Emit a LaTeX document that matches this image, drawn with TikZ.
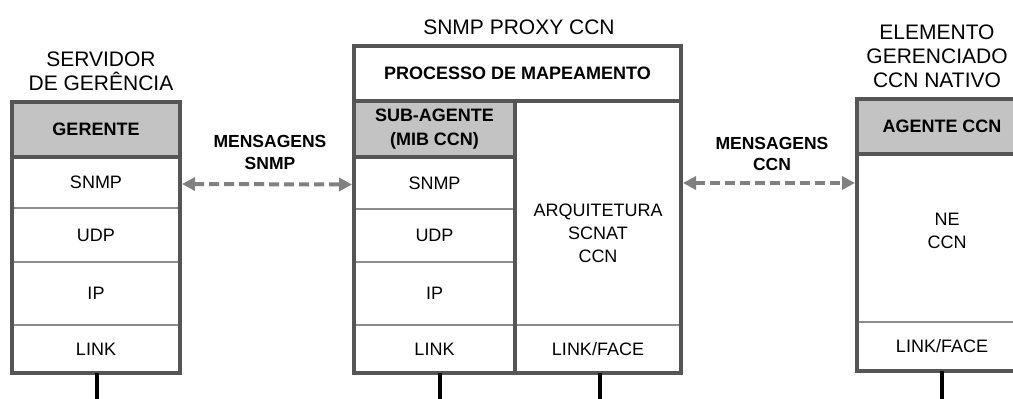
\documentclass[tikz,border=0pt]{standalone}
\usepackage{fontspec}
\setmainfont{Liberation Sans}
\usetikzlibrary{arrows.meta}
\definecolor{framegray}{HTML}{555555}
\definecolor{rulegray}{HTML}{8C8C8C}
\definecolor{cellgray}{HTML}{C3C3C3}
\definecolor{msggray}{HTML}{808080}
\tikzset{
  cell/.style 2 args={minimum width=#1pt, minimum height=#2pt, anchor=north west,
    inner sep=0pt, outer sep=0pt, align=center,
    font=\fontsize{18}{24}\selectfont},
  head/.style={fill=cellgray, font=\bfseries\fontsize{18}{24}\selectfont},
  celltext/.style={align=center, inner sep=0pt, font=\fontsize{18}{23}\selectfont},
  title/.style={align=center, inner sep=0pt, font=\fontsize{21}{24}\selectfont},
  msglabel/.style={align=center, inner sep=0pt, font=\bfseries\fontsize{17.5}{21.5}\selectfont},
  frame/.style={draw=framegray, line width=3.2pt},
  divider/.style={draw=rulegray, line width=1.4pt},
  msg/.style={draw=msggray, line width=4pt, dash pattern=on 10pt off 5pt,
    {Triangle[length=13pt,width=13pt,fill=msggray]}-{Triangle[length=13pt,width=13pt,fill=msggray]},
    shorten <=2pt, shorten >=2pt},
  wire/.style={draw=black, line width=4pt}
}
\begin{document}
\begin{tikzpicture}[x=1pt,y=-1pt]
\clip (0,0) rectangle (1013,399);
\fill[white] (0,0) rectangle (1013,399);

% ---- management server stack ----
\node[cell={168}{55},head] (gerente) at (12,102) {GERENTE};
\node[cell={168}{51}] (snmpL) at (12,157) {SNMP};
\node[cell={168}{54}] (udpL) at (12,208) {UDP};
\node[cell={168}{63}] (ipL) at (12,262) {IP};
\node[cell={168}{48}] (linkL) at (12,325) {LINK};
\draw[divider] (snmpL.south west) -- (snmpL.south east);
\draw[divider] (udpL.south west) -- (udpL.south east);
\draw[divider] (ipL.south west) -- (ipL.south east);
\draw[frame] (gerente.south west) -- (gerente.south east);
\draw[frame] (gerente.north west) rectangle (linkL.south east);
\node[title] (tituloL) at (101,71) {SERVIDOR\\DE GERÊNCIA};

% ---- SNMP proxy stack ----
\node[cell={327}{55}] (proc) at (354,46) {\bfseries PROCESSO DE MAPEAMENTO};
\node[cell={161}{56},head] (sub) at (354,101) {SUB-AGENTE\\(MIB CCN)};
\node[cell={161}{52}] (snmpM) at (354,157) {SNMP};
\node[cell={161}{53}] (udpM) at (354,209) {UDP};
\node[cell={161}{63}] (ipM) at (354,262) {IP};
\node[cell={161}{48}] (linkM) at (354,325) {LINK};
\node[cell={166}{224}] (arq) at (515,101) {};
\node[cell={166}{48}] (faceM) at (515,325) {LINK/FACE};
\node[celltext] (arqtxt) at ([yshift=-20pt]arq.center) {ARQUITETURA\\SCNAT\\CCN};
\draw[divider] (snmpM.south west) -- (snmpM.south east);
\draw[divider] (udpM.south west) -- (udpM.south east);
\draw[divider] (ipM.south west) -- (ipM.south east);
\draw[divider] (arq.south west) -- (arq.south east);
\draw[frame] (sub.south west) -- (sub.south east);
\draw[frame] (sub.north east) -- (linkM.south east);
\draw[frame] (proc.south west) -- (proc.south east);
\draw[frame] (proc.north west) rectangle (faceM.south east);
\node[title] (tituloM) at (519,27.5) {SNMP PROXY CCN};

% ---- native CCN managed element ----
\node[cell={170}{55},head] (agente) at (857,99) {AGENTE CCN};
\node[cell={170}{168}] (ne) at (857,154) {};
\node[cell={170}{49}] (faceR) at (857,322) {LINK/FACE};
\node[celltext] (netxt) at ([xshift=5pt,yshift=7pt]ne.center) {NE\\CCN};
\draw[divider] (ne.south west) -- (ne.south east);
\draw[frame] (agente.south west) -- (agente.south east);
\draw[frame] (agente.north west) rectangle (faceR.south east);
\node[title] (tituloR) at (937,56.5) {ELEMENTO\\GERENCIADO\\CCN NATIVO};

% ---- messages between the stacks ----
\draw[msg] ([yshift=-1.5pt]snmpL.east) -- ([yshift=-1.5pt]snmpM.west);
\node[msglabel] (msgSNMP) at (270,152.5) {MENSAGENS\\SNMP};
\coordinate (ccnlevel) at (0,183);
\coordinate (arqL) at (arq.east |- ccnlevel);
\coordinate (neL) at (ne.west |- ccnlevel);
\draw[msg] (arqL) -- (neL);
\node[msglabel] (msgCCN) at (772,154) {MENSAGENS\\CCN};

% ---- physical attachments ----
\coordinate (busL) at (97,405);
\coordinate (busM1) at (440,405);
\coordinate (busM2) at (600,405);
\coordinate (busR) at (942,405);
\draw[wire] (linkL.south -| busL) -- (busL);
\draw[wire] (linkM.south -| busM1) -- (busM1);
\draw[wire] (faceM.south -| busM2) -- (busM2);
\draw[wire] (faceR.south -| busR) -- (busR);
\end{tikzpicture}
\end{document}
